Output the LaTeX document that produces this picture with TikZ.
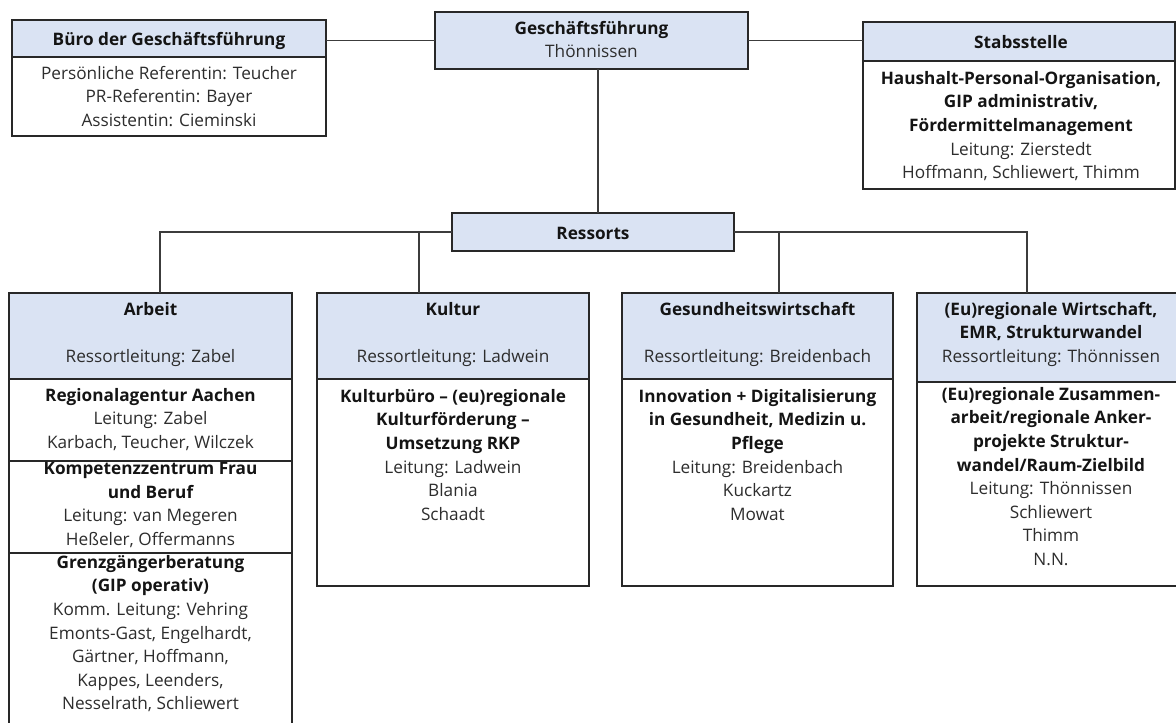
\documentclass[tikz,border=0pt]{standalone}
\usepackage{fontspec}
\setmainfont{Open Sans}
\definecolor{hdrfill}{RGB}{218,227,243}
\definecolor{edge}{RGB}{40,40,40}
\definecolor{conncol}{RGB}{60,60,60}
\definecolor{ink}{RGB}{20,20,20}
\definecolor{soft}{RGB}{45,45,45}
\newcommand\mystrut{\rule[-6.6pt]{0pt}{23.6pt}}
\newcommand\bt[1]{{\bfseries\color{ink}#1}}
\begin{document}
\begin{tikzpicture}[x=1pt,y=-1pt,
  frame/.style={draw=edge, line width=1.1pt, anchor=north west, inner sep=0pt, outer sep=0pt},
  hdrbox/.style={frame, fill=hdrfill},
  bodybox/.style={frame, fill=white},
  txt/.style={align=center, inner sep=0pt, anchor=north, text=soft,
    font=\fontsize{17.2}{23.6}\selectfont,
    execute at begin node=\mystrut, execute at end node=\mystrut},
  link/.style={draw=conncol, line width=1.1pt}]
\useasboundingbox (0,0) rectangle (1176,723);

% boxes
\node[hdrbox, minimum width=314, minimum height=37] (bueroH) at (12,20) {};
\node[bodybox, minimum width=314, minimum height=79] (bueroB) at (12,57) {};
\node[hdrbox, minimum width=313, minimum height=57] (gf) at (435,12) {};
\node[hdrbox, minimum width=312, minimum height=39] (stabH) at (863,22) {};
\node[bodybox, minimum width=312, minimum height=128] (stabB) at (863,61) {};
\node[hdrbox, minimum width=282, minimum height=38] (res) at (452,213) {};

\node[hdrbox, minimum width=283, minimum height=86] (arbH) at (9,293) {};
\node[bodybox, minimum width=283, minimum height=82] (arbS1) at (9,379) {};
\node[bodybox, minimum width=283, minimum height=92] (arbS2) at (9,461) {};
\node[bodybox, minimum width=283, minimum height=200] (arbS3) at (9,553) {};

\node[hdrbox, minimum width=272, minimum height=86] (kulH) at (317,293) {};
\node[bodybox, minimum width=272, minimum height=207] (kulB) at (317,379) {};

\node[hdrbox, minimum width=271, minimum height=86] (gesH) at (622,293) {};
\node[bodybox, minimum width=271, minimum height=207] (gesB) at (622,379) {};

\node[hdrbox, minimum width=260, minimum height=89] (euH) at (917,293) {};
\node[bodybox, minimum width=260, minimum height=204] (euB) at (917,382) {};

% connectors
\draw[link] (bueroH.east |- gf.west) -- (gf.west);
\draw[link] (gf.east) -- (gf.east -| stabH.west);
\draw[link] ([xshift=6.5pt]gf.south) -- ([xshift=6.5pt]gf.south |- res.north);
\draw[link] (res.west) -| ([xshift=9.5pt]arbH.north);
\draw[link] ([xshift=-34pt]kulH.north) -- ([xshift=-34pt]kulH.north |- res.west);
\draw[link] (res.east) -| ([xshift=-20pt]euH.north);
\draw[link] ([xshift=21.5pt]gesH.north) -- ([xshift=21.5pt]gesH.north |- res.east);

% texts
\node[txt] (tBueroH) at (169,28) {\bt{Büro der Geschäftsführung}};
\node[txt] (tBueroB) at (169,66) {Persönliche Referentin: Teucher\\PR-Referentin: Bayer\\Assistentin: Cieminski};
\node[txt] (tGf) at (591.5,21) {\bt{Geschäftsführung}\\Thönnissen};
\node[txt] (tStabH) at (1021,31) {\bt{Stabsstelle}};
\node[txt] (tStabB) at (1021,71) {\bt{Haushalt-Personal-Organisation,}\\\bt{GIP administrativ,}\\\bt{Fördermittelmanagement}\\Leitung: Zierstedt\\Hoffmann, Schliewert, Thimm};
\node[txt] (tRes) at (593,222) {\bt{Ressorts}};

\node[txt] (tArbH) at (150.5,302) {\bt{Arbeit}\\\mbox{}\\Ressortleitung: Zabel};
\node[txt] (tArb1) at (150.5,388) {\bt{Regionalagentur Aachen}\\Leitung: Zabel\\Karbach, Teucher, Wilczek};
\node[txt] (tArb2) at (150.5,462) {\bt{Kompetenzzentrum Frau}\\\bt{und Beruf}\\Leitung: van Megeren\\Heßeler, Offermanns};
\node[txt] (tArb3) at (150.5,555) {\bt{Grenzgängerberatung}\\\bt{(GIP operativ)}\\Komm. Leitung: Vehring\\Emonts-Gast, Engelhardt,\\Gärtner, Hoffmann,\\Kappes, Leenders,\\Nesselrath, Schliewert};

\node[txt] (tKulH) at (453,302) {\bt{Kultur}\\\mbox{}\\Ressortleitung: Ladwein};
\node[txt] (tKulB) at (453,389) {\bt{Kulturbüro – (eu)regionale}\\\bt{Kulturförderung –}\\\bt{Umsetzung RKP}\\Leitung: Ladwein\\Blania\\Schaadt};

\node[txt] (tGesH) at (757.5,302) {\bt{Gesundheitswirtschaft}\\\mbox{}\\Ressortleitung: Breidenbach};
\node[txt] (tGesB) at (757.5,389) {\bt{Innovation + Digitalisierung}\\\bt{in Gesundheit, Medizin u.}\\\bt{Pflege}\\Leitung: Breidenbach\\Kuckartz\\Mowat};

\node[txt] (tEuH) at (1051,302) {\bt{(Eu)regionale Wirtschaft,}\\\bt{EMR, Strukturwandel}\\Ressortleitung: Thönnissen};
\node[txt] (tEuB) at (1051,387) {\bt{(Eu)regionale Zusammen-}\\\bt{arbeit/regionale Anker-}\\\bt{projekte Struktur-}\\\bt{wandel/Raum-Zielbild}\\Leitung: Thönnissen\\Schliewert\\Thimm\\N.N.};
\end{tikzpicture}
\end{document}
